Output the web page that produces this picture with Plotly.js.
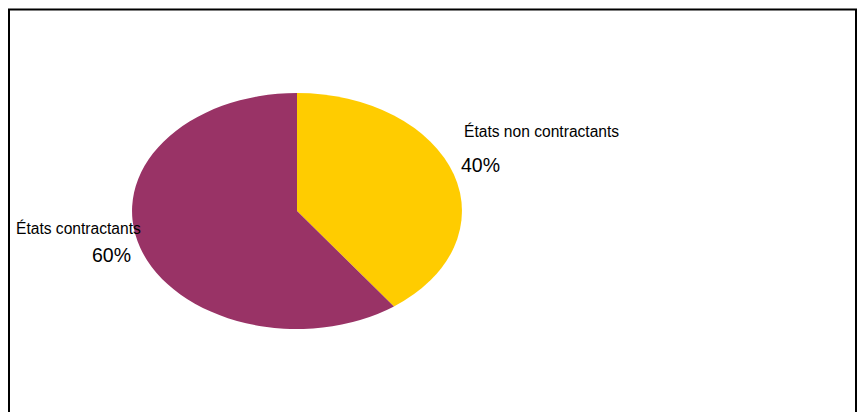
<!DOCTYPE html>
<html>
<head>
<meta charset="utf-8">
<script src="https://cdn.plot.ly/plotly-3.0.1.min.js"></script>
<style>
  html, body { margin: 0; padding: 0; background: #ffffff; }
  #wrap { position: relative; width: 864px; height: 412px; overflow: hidden; }
  #pie { position: absolute; left: 179px; top: 93px; width: 236px; height: 236px;
         transform: scaleX(1.398); transform-origin: 50% 50%; }
  #overlay { position: absolute; left: 0; top: 0; width: 864px; height: 412px; pointer-events: none; }
</style>
</head>
<body>
<div id="wrap">
  <div id="pie"></div>
  <div id="overlay"></div>
</div>
<script>
const categories = ["États non contractants", "États contractants"];
const shares = [40, 60];
const colors = ["#FFCC00", "#993366"];
const W = 864, H = 412;

Plotly.newPlot("pie", [{
  type: "pie",
  values: shares,
  labels: categories,
  sort: false,
  direction: "clockwise",
  rotation: 0,
  textinfo: "none",
  hoverinfo: "label+percent",
  marker: { colors: colors, line: { width: 0 } },
  domain: { x: [0, 1], y: [0, 1] }
}], {
  width: 236, height: 236,
  margin: { l: 0, r: 0, t: 0, b: 0 },
  showlegend: false,
  paper_bgcolor: "rgba(0,0,0,0)",
  plot_bgcolor: "rgba(0,0,0,0)"
}, { staticPlot: true, displayModeBar: false });

const labelFont = { family: "Liberation Sans, Arial, sans-serif", size: 15.6, color: "#000000" };
const pctFont = { family: "Liberation Sans, Arial, sans-serif", size: 19.5, color: "#000000" };
const total = shares.reduce((a, b) => a + b, 0);
const pct = shares.map(v => Math.round(v / total * 100) + "%");
// label anchor positions (page pixels)
const labelPos = [[463, 131], [15, 228]];
const pctPos = [[460, 165], [91, 255]];

const annotations = [];
categories.forEach((c, i) => {
  annotations.push({ xref: "paper", yref: "paper", x: labelPos[i][0] / W, y: 1 - labelPos[i][1] / H,
    xanchor: "left", yanchor: "middle", text: c, showarrow: false, font: labelFont, borderpad: 0 });
  annotations.push({ xref: "paper", yref: "paper", x: pctPos[i][0] / W, y: 1 - pctPos[i][1] / H,
    xanchor: "left", yanchor: "middle", text: pct[i], showarrow: false, font: pctFont, borderpad: 0 });
});

Plotly.newPlot("overlay", [], {
  width: W, height: H,
  margin: { l: 0, r: 0, t: 0, b: 0 },
  paper_bgcolor: "rgba(0,0,0,0)",
  plot_bgcolor: "rgba(0,0,0,0)",
  xaxis: { visible: false, range: [0, 1] },
  yaxis: { visible: false, range: [0, 1] },
  showlegend: false,
  annotations: annotations,
  shapes: [{ type: "rect", xref: "paper", yref: "paper",
    x0: 9 / W, x1: 856 / W, y0: -0.1, y1: 1 - 9.5 / H,
    line: { color: "#000000", width: 2 }, fillcolor: "rgba(0,0,0,0)" }]
}, { staticPlot: true, displayModeBar: false });
</script>
</body>
</html>
